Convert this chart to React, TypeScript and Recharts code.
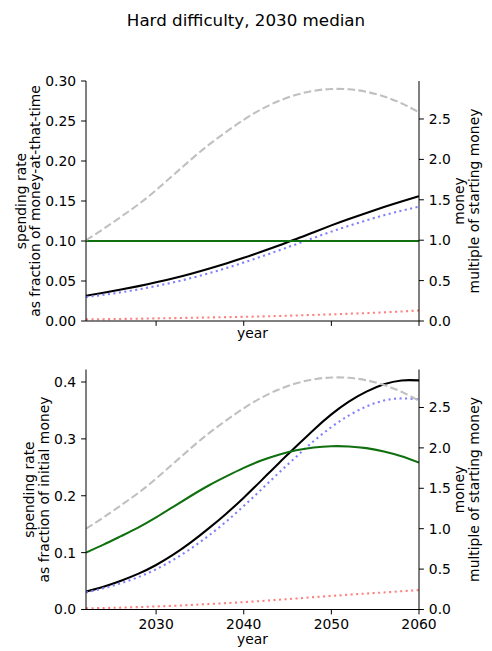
import React from 'react';
import { LineChart, Line, XAxis, YAxis, Label } from 'recharts';

// ---- data ----
const years = [2022, 2024, 2026, 2028, 2030, 2032, 2034, 2036, 2038, 2040, 2042, 2044, 2046, 2048, 2050, 2052, 2054, 2056, 2058, 2060];

// money, multiple of starting money (grey dashed, right axis, both panels)
const moneyMultiple = [1.0, 1.14, 1.29, 1.445, 1.62, 1.81, 2.0, 2.18, 2.34, 2.49, 2.62, 2.723, 2.799, 2.849, 2.871, 2.867, 2.837, 2.779, 2.694, 2.583];

// top panel: spending rate as fraction of money-at-that-time
const topGreen = [0.1, 0.1, 0.1, 0.1, 0.1, 0.1, 0.1, 0.1, 0.1, 0.1, 0.1, 0.1, 0.1, 0.1, 0.1, 0.1, 0.1, 0.1, 0.1, 0.1];
const topBlack = [0.0316, 0.0353, 0.0393, 0.0436, 0.0483, 0.0535, 0.0592, 0.0654, 0.072, 0.079, 0.0865, 0.0945, 0.1025, 0.111, 0.1195, 0.1275, 0.135, 0.1425, 0.1495, 0.156];
const topBlue = [0.03, 0.0328, 0.0359, 0.0395, 0.0437, 0.0484, 0.0537, 0.0596, 0.0661, 0.0731, 0.0805, 0.0882, 0.096, 0.104, 0.1117, 0.119, 0.1258, 0.1322, 0.1378, 0.143];
const topRed = [0.002, 0.00225, 0.00255, 0.0029, 0.0033, 0.0036, 0.004, 0.0044, 0.0048, 0.0052, 0.0057, 0.0063, 0.0069, 0.0076, 0.0083, 0.0091, 0.0099, 0.0108, 0.0119, 0.0132];

// bottom panel: spending rate as fraction of initial money
const botGreen = [0.1, 0.114, 0.129, 0.1445, 0.162, 0.181, 0.2, 0.218, 0.234, 0.249, 0.262, 0.2723, 0.2799, 0.2849, 0.2871, 0.2867, 0.2837, 0.2779, 0.2694, 0.2583];
const botBlack = [0.0316, 0.0402, 0.0507, 0.063, 0.0783, 0.0968, 0.1184, 0.1426, 0.1685, 0.1967, 0.2266, 0.2573, 0.2869, 0.3162, 0.3431, 0.3655, 0.383, 0.396, 0.4028, 0.4029];
const botBlue = [0.03, 0.0374, 0.0463, 0.0571, 0.0708, 0.0876, 0.1074, 0.1299, 0.1547, 0.182, 0.2109, 0.2402, 0.2687, 0.2963, 0.3207, 0.3412, 0.3569, 0.3674, 0.3712, 0.3694];
const botRed = [0.002, 0.0026, 0.0033, 0.0042, 0.0054, 0.0065, 0.008, 0.0096, 0.0112, 0.013, 0.0149, 0.0172, 0.0193, 0.0217, 0.0238, 0.0261, 0.0281, 0.03, 0.0321, 0.0341];

// ticks
const xTicks = [2030, 2040, 2050, 2060];
const topLeftTicks = [0, 0.05, 0.1, 0.15, 0.2, 0.25, 0.3];
const botLeftTicks = [0, 0.1, 0.2, 0.3, 0.4];
const rightTicks = [0, 0.5, 1.0, 1.5, 2.0, 2.5];

const titleText = 'Hard difficulty, 2030 median';

// ---- styling ----
const FONT = "'DejaVu Sans', 'Liberation Sans', sans-serif";
const FS = 13.9;
const LW = 2.08;
const tickStyle = { fill: '#000', fontSize: FS, fontFamily: FONT };

const topRows = years.map((y, i) => ({
  year: y,
  money: moneyMultiple[i],
  green: topGreen[i],
  black: topBlack[i],
  blue: topBlue[i],
  red: topRed[i],
}));

const botRows = years.map((y, i) => ({
  year: y,
  money: moneyMultiple[i],
  green: botGreen[i],
  black: botBlack[i],
  blue: botBlue[i],
  red: botRed[i],
}));

function rotatedLines(viewBox: any, baselines: number[], lines: string[]) {
  const cy = viewBox.y + viewBox.height / 2;
  return (
    <g>
      {lines.map((t, i) => (
        <text
          key={i}
          transform={`translate(${viewBox.x + baselines[i]},${cy}) rotate(-90)`}
          textAnchor="middle"
          fill="#000"
          fontSize={FS}
          fontFamily={FONT}
        >
          {t}
        </text>
      ))}
    </g>
  );
}

function Panel(props: {
  rows: any[];
  height: number;
  marginTop: number;
  xAxisHeight: number;
  showXTickLabels: boolean;
  leftDomain: number[];
  leftTicks: number[];
  leftDigits: number;
  leftLabel: string[];
  leftBaselines: number[];
  yearOffset: number;
}) {
  const p = props;
  return (
    <LineChart
      width={492}
      height={p.height}
      data={p.rows}
      margin={{ top: p.marginTop, right: 0, bottom: 0, left: 0 }}
    >
      <XAxis
        dataKey="year"
        type="number"
        domain={[2022, 2060]}
        allowDataOverflow
        ticks={xTicks}
        height={p.xAxisHeight}
        stroke="#000"
        tickSize={4.9}
        tickMargin={4.9}
        tick={tickStyle}
        tickFormatter={(v: number) => (p.showXTickLabels ? String(v) : '')}
      >
        <Label
          value="year"
          position="insideBottom"
          offset={p.yearOffset}
          fill="#000"
          fontSize={FS}
          fontFamily={FONT}
        />
      </XAxis>
      <XAxis
        xAxisId="top"
        orientation="top"
        dataKey="year"
        type="number"
        domain={[2022, 2060]}
        allowDataOverflow
        height={0}
        stroke="#000"
        tick={false}
        tickLine={false}
      />
      <YAxis
        yAxisId="left"
        orientation="left"
        type="number"
        domain={p.leftDomain}
        allowDataOverflow
        ticks={p.leftTicks}
        width={86}
        stroke="#000"
        tickSize={4.9}
        tickMargin={4.9}
        tick={tickStyle}
        tickFormatter={(v: number) => v.toFixed(p.leftDigits)}
      >
        <Label content={(lp: any) => rotatedLines(lp.viewBox, p.leftBaselines, p.leftLabel)} />
      </YAxis>
      <YAxis
        yAxisId="right"
        orientation="right"
        type="number"
        domain={[0, 2.97]}
        allowDataOverflow
        ticks={rightTicks}
        width={73}
        stroke="#000"
        tickSize={4.9}
        tickMargin={4.9}
        tick={tickStyle}
        tickFormatter={(v: number) => v.toFixed(1)}
      >
        <Label
          content={(lp: any) =>
            rotatedLines(lp.viewBox, [45, 59.5], ['money', 'multiple of starting money'])
          }
        />
      </YAxis>
      <Line yAxisId="left" dataKey="black" type="natural" stroke="#000000" strokeWidth={LW} dot={false} isAnimationActive={false} />
      <Line yAxisId="left" dataKey="blue" type="natural" stroke="#7f7fff" strokeWidth={LW} strokeDasharray="2.08 3.44" dot={false} isAnimationActive={false} />
      <Line yAxisId="left" dataKey="red" type="natural" stroke="#ff8080" strokeWidth={LW} strokeDasharray="2.08 3.44" dot={false} isAnimationActive={false} />
      <Line yAxisId="left" dataKey="green" type="natural" stroke="#107010" strokeWidth={LW} dot={false} isAnimationActive={false} />
      <Line yAxisId="right" dataKey="money" type="natural" stroke="#c0c0c0" strokeWidth={LW} strokeDasharray="7.7 3.33" dot={false} isAnimationActive={false} />
    </LineChart>
  );
}

export default function App() {
  return (
    <div
      style={{
        position: 'absolute',
        left: 0,
        top: 0,
        width: 492,
        height: 651,
        background: '#fff',
        fontFamily: FONT,
        overflow: 'hidden',
      }}
    >
      <div
        style={{
          position: 'absolute',
          left: 0,
          top: 12,
          width: 492,
          textAlign: 'center',
          fontSize: 16.7,
          lineHeight: '16.7px',
          color: '#000',
          fontFamily: FONT,
        }}
      >
        {titleText}
      </div>
      <div style={{ position: 'absolute', left: 0, top: 0 }}>
        <Panel
          rows={topRows}
          height={345}
          marginTop={81}
          xAxisHeight={24}
          showXTickLabels={false}
          leftDomain={[0, 0.3]}
          leftTicks={topLeftTicks}
          leftDigits={2}
          leftLabel={['spending rate', 'as fraction of money-at-that-time']}
          leftBaselines={[25.7, 40]}
          yearOffset={7}
        />
      </div>
      <div style={{ position: 'absolute', left: 0, top: 345 }}>
        <Panel
          rows={botRows}
          height={306}
          marginTop={24.5}
          xAxisHeight={41.5}
          showXTickLabels={true}
          leftDomain={[0, 0.422]}
          leftTicks={botLeftTicks}
          leftDigits={1}
          leftLabel={['spending rate', 'as fraction of initial money']}
          leftBaselines={[34.3, 49]}
          yearOffset={6.7}
        />
      </div>
    </div>
  );
}
